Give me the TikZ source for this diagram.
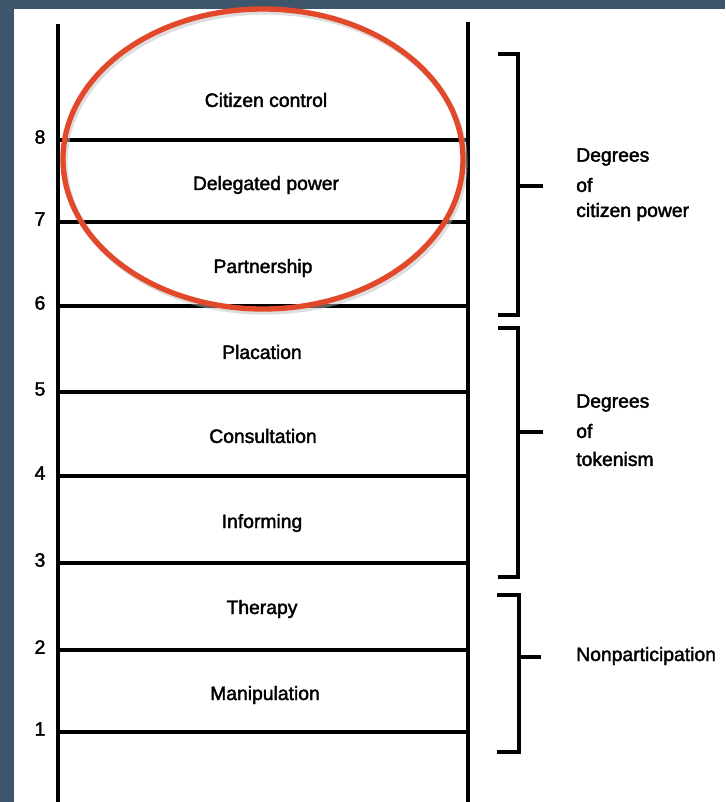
\documentclass[tikz,border=0pt]{standalone}
\usepackage{fontspec}
\newfontfamily\labfont[FakeBold=2]{Liberation Sans}
\definecolor{frame}{HTML}{3E566C}
\definecolor{ringred}{HTML}{E2492A}
\begin{document}
\begin{tikzpicture}[x=0.75pt,y=-0.75pt,
  rail/.style={line width=3.2pt,black},
  rung/.style={line width=3.2pt,black},
  brk/.style={line width=3.2pt,black},
  lab/.style={font=\labfont\fontsize{14.5}{17}\selectfont,inner sep=0pt},
  num/.style={font=\labfont\fontsize{14.5}{17}\selectfont,inner sep=0pt},
  side/.style={font=\labfont\fontsize{14.5}{17}\selectfont,inner sep=0pt,anchor=west,align=left}]
\useasboundingbox (0,0) rectangle (725,802);
\fill[frame] (0,0) rectangle (725,802);
\fill[white] (14,9) rectangle (725,802);
% rails
\coordinate (lt) at (58,24); \coordinate (lb) at (58,802);
\coordinate (rt) at (468,22); \coordinate (rb) at (468,802);
\draw[rail] (lt) -- (lb);
\draw[rail] (rt) -- (rb);
% rungs and numbers
\foreach \n/\y in {8/140,7/222,6/306,5/392,4/476,3/563,2/650,1/732}{
  \coordinate (l\n) at (58,\y); \coordinate (r\n) at (468,\y);
  \draw[rung] (l\n) -- (r\n);
  \node[num] (n\n) at (40,\y-3) {\n};
}
% rung labels
\node[lab] (t8) at (266,100) {Citizen control};
\node[lab] (t7) at (266,185) {Delegated power};
\node[lab] (t6) at (263,268) {Partnership};
\node[lab] (t5) at (262,352) {Placation};
\node[lab] (t4) at (263,436) {Consultation};
\node[lab] (t3) at (262,523) {Informing};
\node[lab] (t2) at (262,609) {Therapy};
\node[lab] (t1) at (265,695) {Manipulation};
% brackets
\coordinate (b1a) at (498,54); \coordinate (b1b) at (498,315);
\coordinate (b1m) at (518,186); \coordinate (b1t) at (543,186);
\draw[brk] (b1a) -| (518,315) -- (b1b);
\draw[brk] (b1m) -- (b1t);
\coordinate (b2a) at (498,328); \coordinate (b2b) at (498,577);
\coordinate (b2m) at (518,432); \coordinate (b2t) at (543,432);
\draw[brk] (b2a) -| (518,577) -- (b2b);
\draw[brk] (b2m) -- (b2t);
\coordinate (b3a) at (497,595); \coordinate (b3b) at (497,752);
\coordinate (b3m) at (519,657); \coordinate (b3t) at (541,657);
\draw[brk] (b3a) -| (519,752) -- (b3b);
\draw[brk] (b3m) -- (b3t);
% side texts
\node[side] (s1a) at (576,157) {Degrees};
\node[side] (s1b) at (576,185) {of};
\node[side] (s1c) at (576,212) {citizen power};
\node[side] (s2a) at (576,403) {Degrees};
\node[side] (s2b) at (576,431) {of};
\node[side] (s2c) at (576,459) {tokenism};
\node[side] (s3) at (576,656) {Nonparticipation};
% red ellipse with faint shadow
\draw[black!25,line width=4pt,opacity=0.5] (265,162) ellipse [x radius=200,y radius=150];
\draw[ringred,line width=4pt] (263,159) ellipse [x radius=200,y radius=150];
\end{tikzpicture}
\end{document}
